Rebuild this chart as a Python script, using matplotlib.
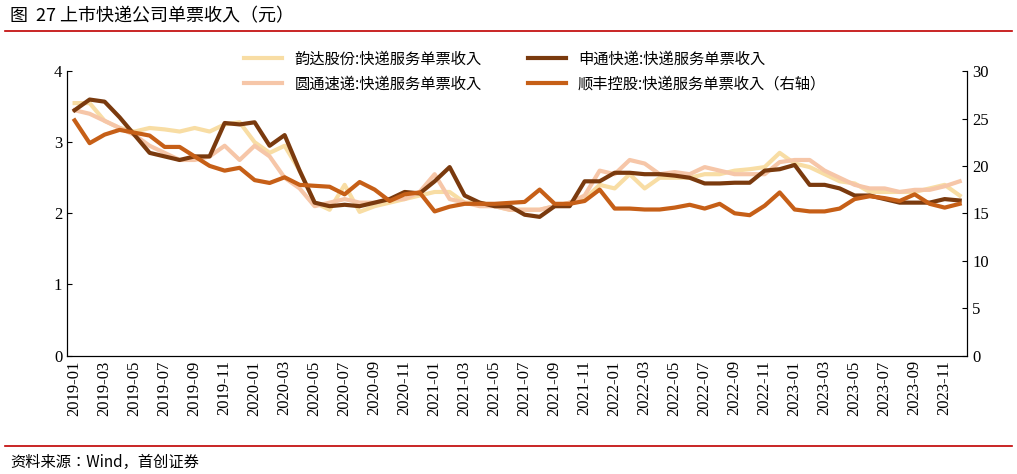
import matplotlib.pyplot as plt
from matplotlib import font_manager as fm
import numpy as np

months = [f"{y}-{m:02d}" for y in range(2019, 2024) for m in range(1, 13)]

yunda = [3.55, 3.55, 3.3, 3.2, 3.15, 3.2, 3.18, 3.15, 3.2, 3.15, 3.25, 3.28,
         3.0, 2.85, 2.95, 2.6, 2.15, 2.05, 2.4, 2.02, 2.1, 2.15, 2.2, 2.25,
         2.3, 2.3, 2.15, 2.15, 2.1, 2.05, 2.05, 2.05, 2.1, 2.15, 2.2, 2.4,
         2.35, 2.55, 2.35, 2.5, 2.5, 2.5, 2.55, 2.55, 2.6, 2.62, 2.65, 2.85,
         2.7, 2.65, 2.55, 2.45, 2.42, 2.3, 2.3, 2.3, 2.3, 2.35, 2.4, 2.25]
yuantong = [3.45, 3.4, 3.3, 3.2, 3.1, 2.95, 2.85, 2.75, 2.75, 2.8, 2.95, 2.75,
            2.95, 2.8, 2.5, 2.35, 2.1, 2.15, 2.2, 2.15, 2.15, 2.2, 2.2, 2.3,
            2.55, 2.2, 2.15, 2.1, 2.1, 2.05, 2.05, 2.05, 2.1, 2.15, 2.25, 2.6,
            2.55, 2.75, 2.7, 2.55, 2.58, 2.55, 2.65, 2.6, 2.55, 2.55, 2.55, 2.72,
            2.75, 2.75, 2.6, 2.5, 2.4, 2.35, 2.35, 2.3, 2.33, 2.33, 2.38, 2.45]
shentong = [3.45, 3.6, 3.57, 3.35, 3.1, 2.85, 2.8, 2.75, 2.8, 2.8, 3.27, 3.25,
            3.28, 2.95, 3.1, 2.6, 2.15, 2.1, 2.12, 2.1, 2.15, 2.2, 2.3, 2.28,
            2.45, 2.65, 2.25, 2.15, 2.1, 2.1, 1.98, 1.95, 2.1, 2.1, 2.45, 2.45,
            2.57, 2.57, 2.55, 2.55, 2.53, 2.5, 2.42, 2.42, 2.43, 2.43, 2.6, 2.62,
            2.68, 2.4, 2.4, 2.35, 2.25, 2.25, 2.2, 2.15, 2.15, 2.15, 2.2, 2.18]
sf = [24.8, 22.4, 23.3, 23.8, 23.5, 23.2, 22.0, 22.0, 21.0, 20.0, 19.5, 19.8,
      18.5, 18.2, 18.8, 18.0, 17.9, 17.8, 17.0, 18.3, 17.5, 16.3, 17.0, 17.2,
      15.2, 15.7, 16.0, 16.0, 16.0, 16.1, 16.2, 17.5, 16.0, 16.0, 16.3, 17.5,
      15.5, 15.5, 15.4, 15.4, 15.6, 15.9, 15.5, 16.0, 15.0, 14.8, 15.8, 17.2,
      15.4, 15.2, 15.2, 15.5, 16.5, 16.8, 16.6, 16.3, 17.0, 16.0, 15.6, 16.0]

labels = ["韵达股份:快递服务单票收入", "圆通速递:快递服务单票收入",
          "申通快递:快递服务单票收入", "顺丰控股:快递服务单票收入（右轴）"]
colors = ["#F8DDA4", "#F6C6A8", "#7A3A0E", "#C65F17"]

# find a CJK font file directly
cjk_path = None
for f in fm.findSystemFonts():
    if "NotoSansCJK" in f.replace("-", "").replace(" ", ""):
        cjk_path = f
        if "Regular" in f:
            break
if cjk_path:
    fm.fontManager.addfont(cjk_path)
    cjk = fm.FontProperties(fname=cjk_path)
else:
    cjk = fm.FontProperties(family=["Noto Sans CJK SC", "Noto Sans CJK JP"])

plt.rcParams["font.family"] = ["Liberation Serif"]
fig = plt.figure(figsize=(10.17, 4.74), dpi=100)
ax = fig.add_axes([0.066, 0.25, 0.885, 0.6])
ax2 = ax.twinx()
x = np.arange(len(months))
h = []
for s, c, l in zip([yunda, yuantong, shentong], colors[:3], labels[:3]):
    h += ax.plot(x, s, color=c, lw=3, label=l)
h += ax2.plot(x, sf, color=colors[3], lw=3, label=labels[3])

ax.set_ylim(0, 4)
ax.set_yticks([0, 1, 2, 3, 4])
ax2.set_ylim(0, 30)
ax2.set_yticks(range(0, 31, 5))
ax.set_xlim(-0.5, 59.5)
ax.set_xticks(x[::2])
ax.set_xticklabels(months[::2], rotation=90, fontsize=11)
for a in (ax, ax2):
    a.tick_params(labelsize=12, direction="in")
    a.spines["top"].set_visible(False)
ax.tick_params(axis="x", length=0)
lp = cjk.copy()
lp.set_size(11)
ax.legend(h, labels, ncol=2, frameon=False, loc="upper center",
          bbox_to_anchor=(0.52, 1.12), prop=lp,
          columnspacing=3, handlelength=2.5)

tp = cjk.copy()
tp.set_size(13)
fig.text(0.01, 0.955, "图  27 上市快递公司单票收入（元）", fontproperties=tp)
fig.add_artist(plt.Line2D([0.005, 0.995], [0.935, 0.935], color="#C00000", lw=1.2))
fig.add_artist(plt.Line2D([0.005, 0.995], [0.06, 0.06], color="#C00000", lw=1.2))
sp = cjk.copy()
sp.set_size(11)
sp.set_style("italic")
fig.text(0.01, 0.015, "资料来源：Wind，首创证券", fontproperties=sp)
fig.savefig("out.png")
